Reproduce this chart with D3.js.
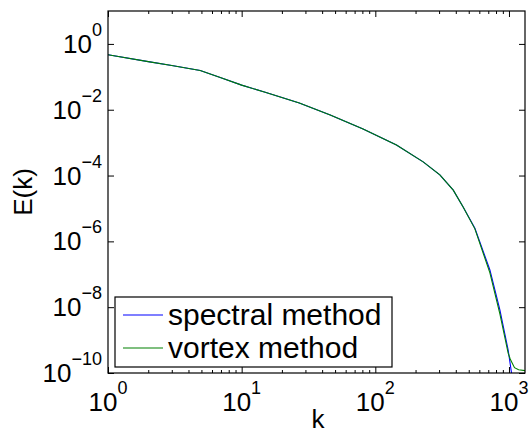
<!DOCTYPE html>
<html>
<head>
<meta charset="utf-8">
<script src="https://cdn.jsdelivr.net/npm/d3@7"></script>
<style>
  body { margin: 0; background: #fff; }
  svg { display: block; font-family: "Liberation Sans", Arial, Helvetica, sans-serif; }
</style>
</head>
<body>
<svg id="chart" width="531" height="437"></svg>
<script>
// wavenumbers and energies
var kSpectral = [1, 2, 3, 4.9, 7, 10, 15, 27, 46, 81, 144, 228, 304, 383, 454, 556, 720, 855, 986, 1045, 1090];
var eSpectral = [0.47, 0.29, 0.22, 0.155, 0.093, 0.056, 0.034, 0.016, 0.0069, 0.0026, 8.5e-4, 2.6e-4, 1.05e-4, 3.6e-5, 1.1e-5, 2.5e-6, 1.35e-7, 8.3e-9, 5e-10, 1e-10, 2.5e-11];

var kVortex = [1, 2, 3, 4.9, 7, 10, 15, 27, 46, 81, 144, 228, 304, 383, 454, 556, 720, 855, 986, 1020, 1045, 1100, 1180, 1318];
var eVortex = [0.47, 0.29, 0.22, 0.155, 0.093, 0.056, 0.034, 0.016, 0.0069, 0.0026, 8.5e-4, 2.6e-4, 1.05e-4, 3.6e-5, 1.1e-5, 2.4e-6, 1.1e-7, 6.3e-9, 4e-10, 2.7e-10, 2.2e-10, 1.45e-10, 1.25e-10, 1.18e-10];

var xMajor = [1, 10, 100, 1000];
var yMajor = [1, 1e-2, 1e-4, 1e-6, 1e-8, 1e-10];
var xExp = ["0", "1", "2", "3"];
var yExp = ["0", "\u22122", "\u22124", "\u22126", "\u22128", "\u221210"];
var legendNames = ["spectral method", "vortex method"];
var colors = ["#0000ff", "#008000"];

var padL = 108, padR = 525, padT = 11, padB = 373;
var svg = d3.select("#chart");

var x = d3.scaleLog().domain([1, 1318]).range([padL, padR]);
var y = d3.scaleLog().domain([1e-10, 10]).range([padB, padT]);

var xMinor = [];
for (var p = 0; p < 4; p++) {
	for (var m = 2; m < 10; m++) {
		var v = m * Math.pow(10, p);
		if (v < 1318) xMinor.push(v);
	}
}

svg.append("clipPath").attr("id", "clip")
	.append("rect")
	.attr("x", padL).attr("y", padT)
	.attr("width", padR - padL).attr("height", padB - padT);

// curves
var line = d3.line()
	.x(function(d) { return x(d[0]); })
	.y(function(d) { return y(d[1]); });

var series = [d3.zip(kSpectral, eSpectral), d3.zip(kVortex, eVortex)];

svg.append("g").attr("clip-path", "url(#clip)")
	.selectAll("path")
	.data(series)
	.enter().append("path")
	.attr("d", line)
	.attr("fill", "none")
	.attr("stroke", function(d, i) { return colors[i]; })
	.attr("stroke-width", 1.1);

// ticks, inside on all four sides
function noLabel() { return ""; }

svg.append("g").attr("transform", "translate(0," + padB + ")")
	.call(d3.axisBottom(x).tickValues(xMajor).tickSize(-6).tickFormat(noLabel));
svg.append("g").attr("transform", "translate(0," + padB + ")")
	.call(d3.axisBottom(x).tickValues(xMinor).tickSize(-3).tickFormat(noLabel));
svg.append("g").attr("transform", "translate(0," + padT + ")")
	.call(d3.axisTop(x).tickValues(xMajor).tickSize(-6).tickFormat(noLabel));
svg.append("g").attr("transform", "translate(0," + padT + ")")
	.call(d3.axisTop(x).tickValues(xMinor).tickSize(-3).tickFormat(noLabel));
svg.append("g").attr("transform", "translate(" + padL + ",0)")
	.call(d3.axisLeft(y).tickValues(yMajor).tickSize(-6).tickFormat(noLabel));
svg.append("g").attr("transform", "translate(" + padR + ",0)")
	.call(d3.axisRight(y).tickValues(yMajor).tickSize(-6).tickFormat(noLabel));

svg.selectAll(".domain").remove();
svg.selectAll(".tick line").attr("stroke", "#000").attr("stroke-width", 1);

svg.append("rect")
	.attr("x", padL).attr("y", padT)
	.attr("width", padR - padL).attr("height", padB - padT)
	.attr("fill", "none").attr("stroke", "#000").attr("stroke-width", 1.2);

// tick labels with superscripts
var xl = svg.append("g").selectAll("text")
	.data(xMajor)
	.enter().append("text")
	.attr("x", function(d) { return x(d); })
	.attr("y", 411)
	.attr("text-anchor", "middle")
	.style("font-size", "26px");
xl.append("tspan").text("10");
xl.append("tspan").attr("dy", -17).style("font-size", "18px")
	.text(function(d, i) { return xExp[i]; });

var yl = svg.append("g").selectAll("text")
	.data(yMajor)
	.enter().append("text")
	.attr("x", 102)
	.attr("y", function(d) { return y(d) + 9; })
	.attr("text-anchor", "end")
	.style("font-size", "26px");
yl.append("tspan").text("10");
yl.append("tspan").attr("dy", -17).style("font-size", "18px")
	.text(function(d, i) { return yExp[i]; });

// axis titles
svg.append("text")
	.attr("x", 318).attr("y", 428)
	.attr("text-anchor", "middle")
	.style("font-size", "26px")
	.text("k");

svg.append("text")
	.attr("transform", "translate(32,192) rotate(-90)")
	.attr("text-anchor", "middle")
	.style("font-size", "26px")
	.text("E(k)");

// legend
var leg = svg.append("g");
leg.append("rect")
	.attr("x", 115).attr("y", 297)
	.attr("width", 277).attr("height", 70)
	.attr("fill", "#fff").attr("stroke", "#000").attr("stroke-width", 1.2);

var rows = leg.selectAll("g.row")
	.data(legendNames)
	.enter().append("g")
	.attr("class", "row")
	.attr("transform", function(d, i) { return "translate(0," + (315 + 33 * i) + ")"; });

rows.append("line")
	.attr("x1", 123).attr("x2", 163)
	.attr("stroke", function(d, i) { return colors[i]; })
	.attr("stroke-width", 1.1);

rows.append("text")
	.attr("x", 168).attr("y", 10)
	.style("font-size", "30px")
	.text(function(d) { return d; });
</script>
</body>
</html>
